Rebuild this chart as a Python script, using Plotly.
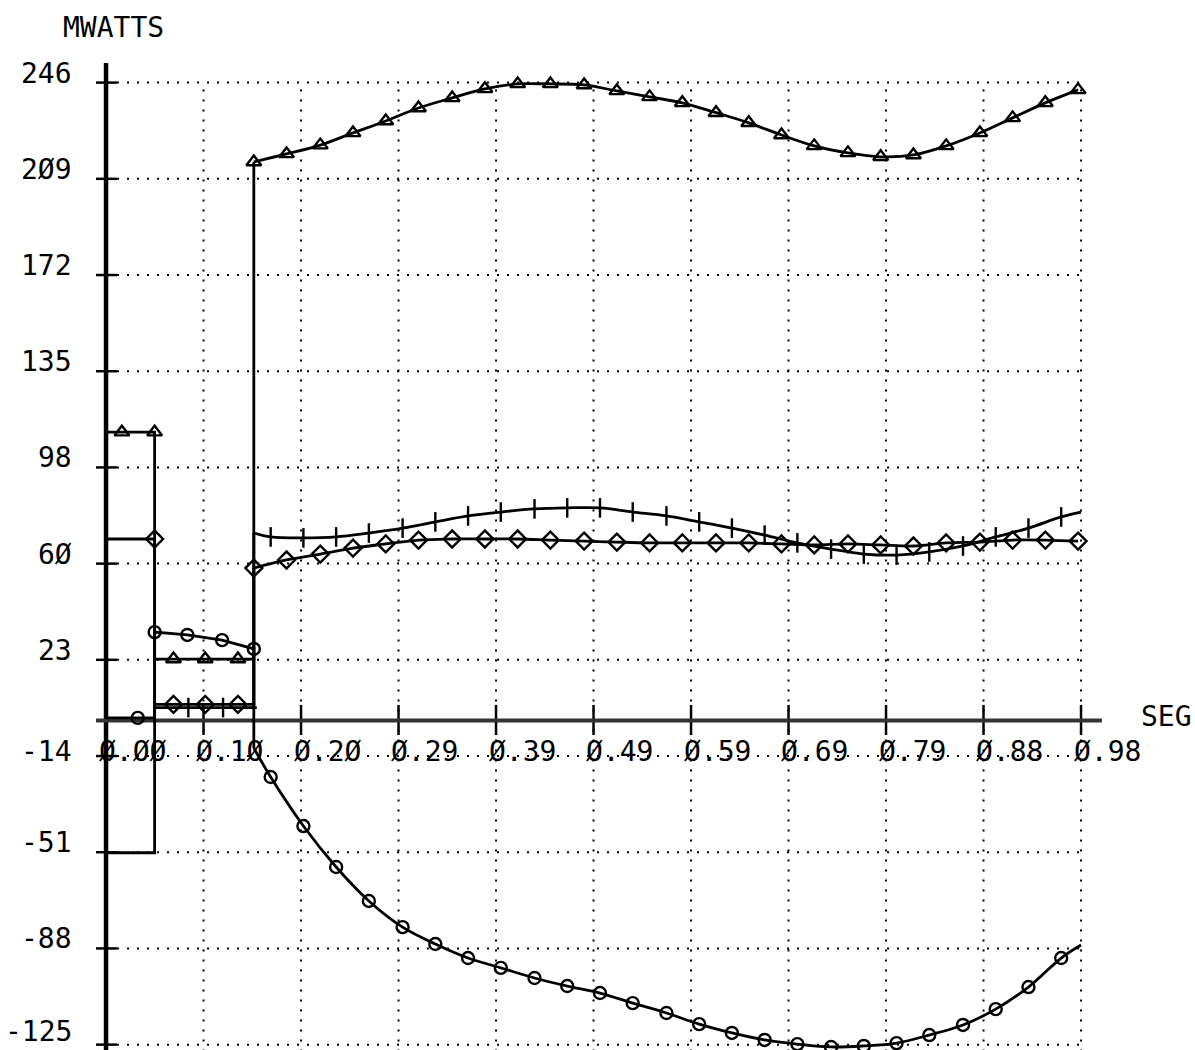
import plotly.graph_objects as go

# ---------------------------------------------------------------------------
# Axis scales and tick labels
# ---------------------------------------------------------------------------
X_TICK_VALS = [0.0, 0.0983, 0.1966, 0.2949, 0.3932, 0.4915, 0.5898, 0.6881, 0.7864, 0.8847, 0.983]
X_TICK_TEXT = ["Ø.ØØ", "Ø.1Ø", "Ø.2Ø", "Ø.29", "Ø.39", "Ø.49", "Ø.59", "Ø.69", "Ø.79", "Ø.88", "Ø.98"]
Y_TICK_VALS = [-125.0, -87.9, -50.8, -13.7, 23.4, 60.5, 97.6, 134.7, 171.8, 208.9, 246.0]
Y_TICK_TEXT = ["-125", "-88", "-51", "-14", "23", "6Ø", "98", "135", "172", "2Ø9", "246"]

# ---------------------------------------------------------------------------
# Time bases (s)
# ---------------------------------------------------------------------------
# post-fault samples for the triangle / diamond curves
T_A = [0.149, 0.182, 0.216, 0.249, 0.282, 0.315, 0.349, 0.382, 0.415, 0.448, 0.482, 0.515, 0.548,
       0.581, 0.615, 0.648, 0.681, 0.714, 0.748, 0.781, 0.814, 0.847, 0.881, 0.914, 0.947, 0.980]
# post-fault samples for the plus / circle curves (first and last are line ends only)
T_B = [0.149, 0.166, 0.199, 0.232, 0.265, 0.299, 0.332, 0.365, 0.398, 0.432, 0.465, 0.498, 0.531,
       0.565, 0.598, 0.631, 0.664, 0.697, 0.731, 0.764, 0.797, 0.830, 0.864, 0.897, 0.930, 0.963, 0.983]

# ---------------------------------------------------------------------------
# Series values (MW)
# ---------------------------------------------------------------------------
# triangle series
TRI_STEP_T = [0.0, 0.049, 0.049, 0.149, 0.149]
TRI_STEP_V = [111.2, 111.2, 23.7, 23.7, 215.4]
TRI_MARK_T = [0.016, 0.049, 0.068, 0.100, 0.133]
TRI_MARK_V = [111.2, 111.2, 23.7, 23.7, 23.7]
TRI_POST = [215.4, 218.5, 221.9, 226.6, 231.2, 236.2, 240.1, 243.6, 245.5, 245.5, 245.1, 242.8, 240.5,
            238.2, 234.4, 230.5, 225.8, 221.6, 218.9, 217.4, 218.1, 221.6, 226.6, 232.4, 238.2, 243.2]

# diamond series
DIA_STEP_T = [0.0, 0.049, 0.049, 0.149, 0.149]
DIA_STEP_V = [70.0, 70.0, 6.2, 6.2, 58.8]
DIA_MARK_T = [0.049, 0.068, 0.100, 0.133]
DIA_MARK_V = [70.0, 6.2, 6.2, 6.2]
DIA_POST = [58.8, 61.9, 64.2, 66.5, 68.1, 69.6, 70.0, 70.0, 70.0, 69.6, 69.2, 68.8, 68.5,
            68.5, 68.5, 68.5, 68.1, 67.7, 68.1, 67.7, 67.3, 68.5, 68.8, 69.6, 69.6, 69.2]

# plus series
PLUS_STEP_T = [0.0, 0.049, 0.049, 0.152, 0.149, 0.149]
PLUS_STEP_V = [-51.0, -51.0, 5.0, 5.0, 5.0, 72.3]
PLUS_MARK_T = [0.083, 0.118]
PLUS_MARK_V = [5.0, 5.0]
PLUS_POST = [72.3, 70.8, 70.4, 70.8, 72.3, 74.2, 76.6, 78.9, 80.4, 81.6, 82.0, 82.0, 80.4, 78.9,
             76.6, 74.2, 71.5, 68.5, 66.1, 64.2, 63.8, 65.0, 67.3, 70.8, 74.2, 78.5, 80.4]

# circle series
CIR_STEP_T = [0.0, 0.049, 0.049, 0.082, 0.117, 0.149, 0.149]
CIR_STEP_V = [1.0, 1.0, 34.1, 33.0, 31.0, 27.6, -10.6]
CIR_MARK_T = [0.032, 0.049, 0.082, 0.117, 0.149]
CIR_MARK_V = [1.0, 34.1, 33.0, 31.0, 27.6]
CIR_POST = [-10.6, -21.8, -40.7, -56.5, -69.6, -79.7, -86.2, -91.6, -95.4, -99.3, -102.4, -105.1, -109.0,
            -112.8, -117.1, -120.5, -123.2, -124.8, -125.9, -125.5, -124.4, -121.3, -117.4, -111.3,
            -102.8, -91.6, -86.6]

# ---------------------------------------------------------------------------
W, H = 1195, 1050
X_RANGE = [-0.1069, 1.0979]
Y_RANGE = [-127.07, 277.86]
FONT = dict(family="DejaVu Sans Mono", size=28, color="black")
INK = "black"
LW = 2.8

fig = go.Figure()


def add_series(step_t, step_v, curve_t, curve_v, mark_t, mark_v, symbol, size):
    fig.add_trace(go.Scatter(x=step_t, y=step_v, mode="lines",
                             line=dict(color=INK, width=LW), hoverinfo="skip"))
    fig.add_trace(go.Scatter(x=curve_t, y=curve_v, mode="lines",
                             line=dict(color=INK, width=LW, shape="spline", smoothing=1.0),
                             hoverinfo="skip"))
    fig.add_trace(go.Scatter(x=mark_t, y=mark_v, mode="markers",
                             marker=dict(symbol=symbol, size=size, color=INK,
                                         line=dict(color=INK, width=2.4)),
                             hoverinfo="skip"))


add_series(TRI_STEP_T, TRI_STEP_V, T_A, TRI_POST,
           TRI_MARK_T + T_A, TRI_MARK_V + TRI_POST, "triangle-up-open", 13)
add_series(DIA_STEP_T, DIA_STEP_V, T_A, DIA_POST,
           DIA_MARK_T + T_A, DIA_MARK_V + DIA_POST, "diamond-open", 13)
add_series(PLUS_STEP_T, PLUS_STEP_V, T_B, PLUS_POST,
           PLUS_MARK_T + T_B[1:-1], PLUS_MARK_V + PLUS_POST[1:-1], "line-ns-open", 14)
add_series(CIR_STEP_T, CIR_STEP_V, T_B, CIR_POST,
           CIR_MARK_T + T_B[1:-1], CIR_MARK_V + CIR_POST[1:-1], "circle-open", 12)

# ---------------------------------------------------------------------------
# Plotter-style axes, dotted grid and tick marks
# ---------------------------------------------------------------------------
shapes = []
dot = dict(color=INK, width=2, dash="2px,8px")
x_last = X_TICK_VALS[-1]
for yv in Y_TICK_VALS:
    shapes.append(dict(type="line", xref="x", yref="y", x0=0.0111, x1=x_last, y0=yv, y1=yv,
                       line=dot, layer="below"))
    shapes.append(dict(type="line", xref="x", yref="y", x0=-0.0101, x1=0.0111, y0=yv, y1=yv,
                       line=dict(color=INK, width=2.5), layer="below"))
for xv in X_TICK_VALS[1:]:
    shapes.append(dict(type="line", xref="x", yref="y", x0=xv, x1=xv, y0=243.3, y1=Y_RANGE[0],
                       line=dot, layer="below"))
    shapes.append(dict(type="line", xref="x", yref="y", x0=xv, x1=xv, y0=-5.6, y1=6.0,
                       line=dict(color=INK, width=2.5), layer="below"))
# y axis
shapes.append(dict(type="line", xref="x", yref="y", x0=0, x1=0, y0=Y_RANGE[0], y1=253.6,
                   line=dict(color=INK, width=4.5), layer="below"))
# x axis
shapes.append(dict(type="line", xref="x", yref="y", x0=-0.0101, x1=1.004, y0=0, y1=0,
                   line=dict(color="#333333", width=4), layer="below"))

annotations = []
for yv, txt in zip(Y_TICK_VALS, Y_TICK_TEXT):
    if yv == Y_TICK_VALS[3]:
        shift = 5          # level with the time labels on the same row
    elif yv == Y_TICK_VALS[0]:
        shift = 13         # keep the lowest label inside the page
    else:
        shift = 9.5
    annotations.append(dict(x=-0.0323, y=yv, xref="x", yref="y", text=txt, showarrow=False,
                            xanchor="right", yanchor="middle", yshift=shift, font=FONT))
for xv, txt in zip(X_TICK_VALS, X_TICK_TEXT):
    annotations.append(dict(x=xv, y=Y_TICK_VALS[3], xref="x", yref="y", text=txt, showarrow=False,
                            xanchor="left", yanchor="middle", xshift=-9.5, yshift=5, font=FONT))
annotations.append(dict(x=61 / W, y=1 - 27.5 / H, xref="paper", yref="paper", text="MWATTS",
                        showarrow=False, xanchor="left", yanchor="middle", font=FONT))
annotations.append(dict(x=1139 / W, y=1 - 716 / H, xref="paper", yref="paper", text="SEG",
                        showarrow=False, xanchor="left", yanchor="middle", font=FONT))

fig.update_layout(
    width=W, height=H, autosize=False,
    margin=dict(l=0, r=0, t=0, b=0, pad=0),
    paper_bgcolor="white", plot_bgcolor="white",
    showlegend=False,
    xaxis=dict(range=X_RANGE, visible=False, fixedrange=True),
    yaxis=dict(range=Y_RANGE, visible=False, fixedrange=True),
    shapes=shapes,
    annotations=annotations,
)

fig.write_html("out.html")
